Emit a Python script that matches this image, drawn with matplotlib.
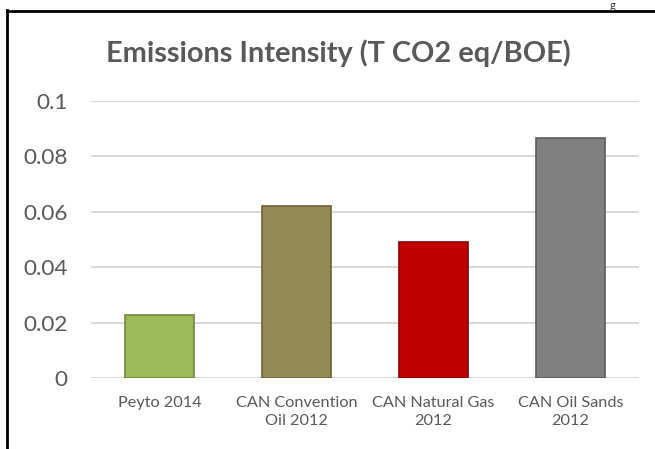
import matplotlib
matplotlib.use("Agg")
import matplotlib.pyplot as plt
from matplotlib.lines import Line2D

categories = ["Peyto 2014", "CAN Convention\nOil 2012", "CAN Natural Gas\n2012", "CAN Oil Sands\n2012"]
values = [0.0227, 0.0622, 0.0491, 0.0867]
colors = ["#9bbb59", "#948a54", "#c00000", "#808080"]
edges = ["#6f8a3a", "#6b6238", "#8a0000", "#5c5c5c"]
yticks = [0, 0.02, 0.04, 0.06, 0.08, 0.1]
yticklabels = ["0", "0.02", "0.04", "0.06", "0.08", "0.1"]
title = "Emissions Intensity (T CO2 eq/BOE)"

plt.rcParams['font.family'] = ['Lato', 'DejaVu Sans']
fig = plt.figure(figsize=(6.55, 4.49), dpi=100)
ax = fig.add_axes([91/655, 1-378/449, 548/655, 277/449])

x = list(range(len(categories)))
ax.bar(x, values, width=0.51, color=colors, edgecolor=edges, linewidth=1.2, zorder=3)
ax.set_xlim(-0.5, 3.5)
ax.set_ylim(0, 0.1)
ax.set_yticks(yticks)
ax.set_yticklabels(yticklabels)
ax.set_xticks(x)
ax.set_xticklabels(categories)
ax.yaxis.grid(True, color="#d9d9d9", linewidth=1.5, zorder=0)
for s in ax.spines.values():
    s.set_visible(False)
ax.tick_params(axis='y', length=0, pad=17, labelsize=16.2, labelcolor="#595959")
ax.tick_params(axis='x', length=0, pad=13, labelsize=11.7, labelcolor="#595959")
for lbl in ax.get_xticklabels():
    lbl.set_linespacing(1.4)

fig.text(338/655, 1-62/449, title, ha='center', va='baseline', fontsize=20.8, fontweight='bold', color="#595959")

fig.add_artist(Line2D([7/655, 7/655], [0, 1-10/449], color='black', linewidth=2))
fig.add_artist(Line2D([7/655, 1], [1-11/449, 1-11/449], color='black', linewidth=2))
fig.text(612/655, 1.0, "g", ha='center', va='top', fontsize=8, color="#333333")

fig.savefig("out.png", dpi=100, facecolor='white')
